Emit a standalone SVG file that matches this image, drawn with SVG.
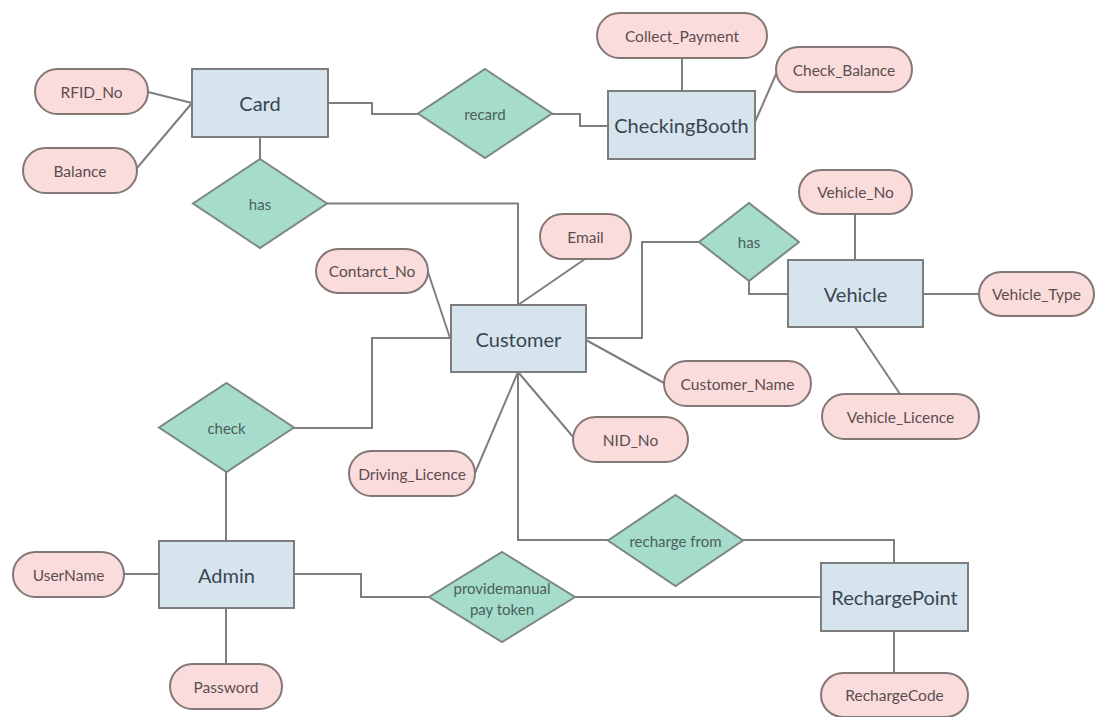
<svg xmlns="http://www.w3.org/2000/svg" width="1096" height="717" viewBox="0 0 1096 717">
<style>
.ent{fill:#d6e4ee;stroke:#7d7d7d;stroke-width:2}
.att{fill:#fbdcdc;stroke:#857676;stroke-width:2}
.rel{fill:#a6dccb;stroke:#7b8783;stroke-width:2}
.et{font-family:Lato,"Liberation Sans",sans-serif;font-size:20px;fill:#3a4650;text-anchor:middle;dominant-baseline:central}
.at{font-family:Lato,"Liberation Sans",sans-serif;font-size:15.5px;fill:#5c4d50;text-anchor:middle;dominant-baseline:central}
.rt{font-family:Lato,"Liberation Sans",sans-serif;font-size:15px;fill:#4b5f59;text-anchor:middle;dominant-baseline:central}
#connectors path{fill:none;stroke:#7e7e7e;stroke-width:2}
</style>
<rect width="1096" height="717" fill="#ffffff"/>
<g id="connectors">
<path d="M148,92 L192,103"/>
<path d="M137,168 L192,103"/>
<path d="M328,103 H372 V114 H418"/>
<path d="M552,114 H580 V126 H608"/>
<path d="M682,58 V91"/>
<path d="M755,122 L777,72"/>
<path d="M260,137 V159"/>
<path d="M327,203.5 H518 V305"/>
<path d="M585,259 L518,305"/>
<path d="M428,272 L450,338"/>
<path d="M586,338 H642 V242 H699"/>
<path d="M749,281 V294 H788"/>
<path d="M855,214 V260"/>
<path d="M923,294 H979"/>
<path d="M855,327 L900,394"/>
<path d="M586,340 L664,383"/>
<path d="M451,338 H372 V428 H294"/>
<path d="M518,372 L475,473"/>
<path d="M518,372 L574,438"/>
<path d="M518,372 V540 H608"/>
<path d="M743,540 H894 V563"/>
<path d="M226,472 V541"/>
<path d="M124,574 H159"/>
<path d="M226,608 V664"/>
<path d="M294,574 H361 V597 H429"/>
<path d="M575,597 H821"/>
<path d="M894,631 V673"/>
</g>
<g id="Card"><rect class="ent" x="192" y="69" width="136" height="68"/><text class="et" x="260" y="103">Card</text></g>
<g id="CheckingBooth"><rect class="ent" x="608" y="91" width="147" height="68"/><text class="et" x="681.5" y="125">CheckingBooth</text></g>
<g id="Customer"><rect class="ent" x="451" y="305" width="135" height="67"/><text class="et" x="518.5" y="338.5">Customer</text></g>
<g id="Vehicle"><rect class="ent" x="788" y="260" width="135" height="67"/><text class="et" x="855.5" y="293.5">Vehicle</text></g>
<g id="Admin"><rect class="ent" x="159" y="541" width="135" height="67"/><text class="et" x="226.5" y="574.5">Admin</text></g>
<g id="RechargePoint"><rect class="ent" x="821" y="563" width="147" height="68"/><text class="et" x="894.5" y="597">RechargePoint</text></g>
<g id="RFID_No"><rect class="att" x="35" y="69" width="113" height="45" rx="22.5"/><text class="at" x="91.5" y="91.5">RFID_No</text></g>
<g id="Balance"><rect class="att" x="23" y="148" width="114" height="45" rx="22.5"/><text class="at" x="80" y="170.5">Balance</text></g>
<g id="Collect_Payment"><rect class="att" x="597" y="13" width="170" height="45" rx="22.5"/><text class="at" x="682" y="35.5">Collect_Payment</text></g>
<g id="Check_Balance"><rect class="att" x="776" y="47" width="136" height="45" rx="22.5"/><text class="at" x="844" y="69.5">Check_Balance</text></g>
<g id="Email"><rect class="att" x="540" y="214" width="91" height="45" rx="22.5"/><text class="at" x="585.5" y="236.5">Email</text></g>
<g id="Contarct_No"><rect class="att" x="316" y="249" width="112" height="44" rx="22"/><text class="at" x="372" y="271">Contarct_No</text></g>
<g id="Vehicle_No"><rect class="att" x="799" y="170" width="113" height="44" rx="22"/><text class="at" x="855.5" y="192">Vehicle_No</text></g>
<g id="Vehicle_Type"><rect class="att" x="979" y="272" width="115" height="44" rx="22"/><text class="at" x="1036.5" y="294">Vehicle_Type</text></g>
<g id="Customer_Name"><rect class="att" x="664" y="361" width="147" height="45" rx="22.5"/><text class="at" x="737.5" y="383.5">Customer_Name</text></g>
<g id="Vehicle_Licence"><rect class="att" x="822" y="394" width="157" height="45" rx="22.5"/><text class="at" x="900.5" y="416.5">Vehicle_Licence</text></g>
<g id="NID_No"><rect class="att" x="573" y="417" width="115" height="45" rx="22.5"/><text class="at" x="630.5" y="439.5">NID_No</text></g>
<g id="Driving_Licence"><rect class="att" x="349" y="451" width="126" height="45" rx="22.5"/><text class="at" x="412" y="473.5">Driving_Licence</text></g>
<g id="UserName"><rect class="att" x="13" y="552" width="111" height="45" rx="22.5"/><text class="at" x="68.5" y="574.5">UserName</text></g>
<g id="Password"><rect class="att" x="170" y="664" width="112" height="45" rx="22.5"/><text class="at" x="226" y="686.5">Password</text></g>
<g id="RechargeCode"><rect class="att" x="821" y="673" width="147" height="44" rx="22"/><text class="at" x="894.5" y="695">RechargeCode</text></g>
<g id="has_card"><polygon class="rel" points="260,159 327,203.5 260,248 193,203.5"/><text class="rt" x="260" y="203.5">has</text></g>
<g id="recard"><polygon class="rel" points="485,69 552,113.5 485,158 418,113.5"/><text class="rt" x="485" y="113.5">recard</text></g>
<g id="has_vehicle"><polygon class="rel" points="749,203 799,242 749,281 699,242"/><text class="rt" x="749" y="242">has</text></g>
<g id="check"><polygon class="rel" points="226.5,383 294,427.5 226.5,472 159,427.5"/><text class="rt" x="226.5" y="427.5">check</text></g>
<g id="recharge_from"><polygon class="rel" points="675.5,495 743,540.5 675.5,586 608,540.5"/><text class="rt" x="675.5" y="540.5">recharge from</text></g>
<g id="providemanual"><polygon class="rel" points="502,552 575,597 502,642 429,597"/><text class="rt" x="502" y="588">providemanual</text><text class="rt" x="502" y="609">pay token</text></g>
</svg>
